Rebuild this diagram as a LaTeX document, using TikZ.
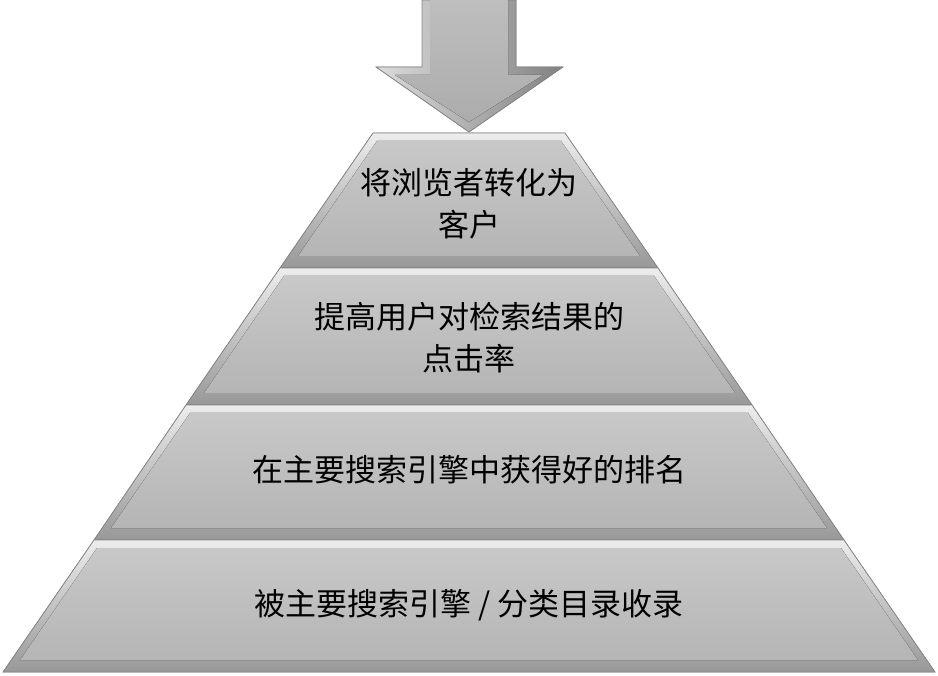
\documentclass[tikz,border=0pt]{standalone}
\usepackage{fontspec}
\newfontfamily\cjk{Noto Sans CJK SC}
\usepackage{tikz}
\usetikzlibrary{positioning}
\definecolor{BevelHi}{HTML}{EDEDED}
\definecolor{BevelLo}{HTML}{989898}
\definecolor{FaceTop}{HTML}{C8C8C8}
\definecolor{FaceBot}{HTML}{B5B5B5}
\definecolor{EdgeGrey}{HTML}{858585}

\begin{document}
\begin{tikzpicture}[
    x=1pt, y=-1pt,
    bevel/.style={top color=BevelHi, bottom color=BevelLo, draw=EdgeGrey, line width=0.8pt},
    face/.style={top color=FaceTop, bottom color=FaceBot},
    arrowbevel/.style={left color=BevelHi!80!BevelLo, right color=BevelLo!85!black, draw=EdgeGrey, line width=0.8pt},
    arrowface/.style={top color=FaceTop!95!black, bottom color=FaceBot!95!black},
    lbl/.style={font=\cjk\fontsize{31}{42}\selectfont, align=center, text=black}
  ]
    \useasboundingbox (0,0) rectangle (938,676);

    % layer 1
    \fill[bevel] (373,133) -- (565,133) -- (658,268) -- (280,268) -- cycle;
    \fill[face] (377,141) -- (561,141) -- (640,256) -- (298,256) -- cycle;
    % layer 2
    \fill[bevel] (280,268) -- (658,268) -- (752,405) -- (186,405) -- cycle;
    \fill[face] (284,276) -- (654,276) -- (735,393) -- (204,393) -- cycle;
    % layer 3
    \fill[bevel] (186,405) -- (752,405) -- (844,540) -- (94,540) -- cycle;
    \fill[face] (190,413) -- (748,413) -- (827,528) -- (111,528) -- cycle;
    % layer 4
    \fill[bevel] (94,540) -- (844,540) -- (935,672) -- (3,672) -- cycle;
    \fill[face] (97,548) -- (841,548) -- (918,660) -- (20,660) -- cycle;

    % arrow on top
    \fill[arrowbevel] (422,0) -- (516,0) -- (516,67) -- (563,67) -- (469,132)
      -- (376,67) -- (422,67) -- cycle;
    \fill[arrowface] (430,0) -- (508,0) -- (508,75) -- (543,75) -- (469,122)
      -- (395,75) -- (430,75) -- cycle;

    \node[lbl] (convert) at (469,204) {将浏览者转化为\\客户};
    \node[lbl] (click) at (469,338) {提高用户对检索结果的\\点击率};
    \node[lbl] (rank) at (469,470) {在主要搜索引擎中获得好的排名};
    \node[lbl] (index) at (469,605) {被主要搜索引擎 / 分类目录收录};
  \end{tikzpicture}
\end{document}
